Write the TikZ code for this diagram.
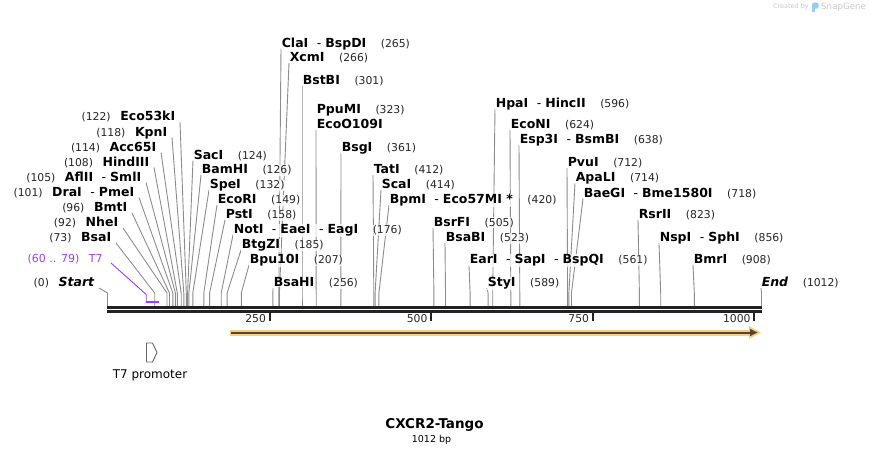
\documentclass[tikz,border=0pt]{standalone}
\usepackage{fontspec}
\setmainfont{DejaVu Sans}
\usetikzlibrary{calc}
\pgfdeclarelayer{bg}
\pgfsetlayers{bg,main}
\definecolor{leadc}{RGB}{140,140,140}
\definecolor{axisc}{RGB}{34,34,34}
\definecolor{t7c}{RGB}{160,60,255}
\definecolor{featorange}{RGB}{250,205,130}
\definecolor{featdark}{RGB}{85,70,45}
\definecolor{wmc}{RGB}{200,200,200}
\definecolor{logoc}{RGB}{150,205,240}
\tikzset{
  nm/.style={font=\fontsize{12.5}{14}\selectfont\bfseries, inner sep=0.6pt, fill=white, fill opacity=0.75, text opacity=1},
  nb/.style={font=\fontsize{10.8}{13}\selectfont, text=black!85, inner sep=0.6pt, fill=white, fill opacity=0.75, text opacity=1},
  leader/.style={draw=leadc, line width=0.9pt},
  tickmark/.style={draw=axisc, line width=2pt},
  ticklab/.style={font=\fontsize{10.8}{13}\selectfont, text=black!85, inner sep=0pt, anchor=base east},
}
\newcommand{\hy}{\hspace{8.5pt}{\mdseries-}\hspace{4pt}}
% right-type label: id, name left x, centre y, name, number, site x
\newcommand{\Rsite}[6]{%
  \node[nm, anchor=base west] (n#1) at (#2,#3+4.5) {#4};
  \node[nb, anchor=base west] (m#1) at ([xshift=13pt]n#1.base east) {(#5)};
  \coordinate (k#1) at (#6,293);
  \coordinate (a#1) at (#6,306);
  \begin{pgfonlayer}{bg}
    \draw[leader] ([yshift=-1.5pt]n#1.base west) -- (k#1) -- (a#1);
  \end{pgfonlayer}
}
% left-type label: id, name right x, centre y, name, number, site x
\newcommand{\Lsite}[6]{%
  \node[nm, anchor=base east] (n#1) at (#2,#3+4.5) {#4};
  \node[nb, anchor=base east] (m#1) at ([xshift=-8pt]n#1.base west) {(#5)};
  \coordinate (k#1) at (#6,293);
  \coordinate (a#1) at (#6,306);
  \begin{pgfonlayer}{bg}
    \draw[leader] ([xshift=4pt,yshift=-1.5pt]n#1.base east) -- (k#1) -- (a#1);
  \end{pgfonlayer}
}
\begin{document}
\begin{tikzpicture}[x=1pt,y=-1pt]
\useasboundingbox (0,0) rectangle (870,456);

% watermark
\node[font=\fontsize{6.5}{8}\selectfont, text=wmc, inner sep=0pt, anchor=east] (wm1) at (809,7) {Created by};
\fill[logoc, rounded corners=1.5pt] (812,2.5) rectangle (818.5,8.5);
\fill[logoc] (812,4) rectangle (814.5,12);
\node[font=\fontsize{8.7}{10}\selectfont, text=wmc, inner sep=0pt, anchor=west] (wm2) at (821,7) {SnapGene};

% axis
\coordinate (ax0) at (107.3,307.5);
\coordinate (ax1) at (761.7,307.5);
\coordinate (bx0) at (107.3,311.7);
\coordinate (bx1) at (761.7,311.7);
\draw[axisc, line width=3pt] (ax0) -- (ax1);
\draw[axisc, line width=2.7pt] (bx0) -- (bx1);

% ticks
\foreach \v/\x in {250/269.6, 500/431.1, 750/592.7, 1000/754.3}{
  \coordinate (tk\v) at (\x,312.5);
  \coordinate (tb\v) at (\x,321);
  \draw[tickmark] (tk\v) -- (tb\v);
  \node[ticklab] (tl\v) at (\x-3.5,322) {\v};
}

% feature arrow
\coordinate (f0) at (230,332.5);
\coordinate (f1) at (752,332.5);
\draw[featorange, line width=6pt] (f0) -- (f1);
\fill[featorange] (749,326) -- (761,332.5) -- (749,339) -- cycle;
\draw[featdark, line width=2pt] (231,332.5) -- (751,332.5);
\fill[featdark] (750,328.8) -- (757.5,332.5) -- (750,336.2) -- cycle;

% T7 promoter feature
\draw[draw=black!60, fill=white, line width=0.9pt, line join=round]
  (146.5,343) -- (152.5,343) -- (157,352.5) -- (152.5,362) -- (146.5,362) -- cycle;
\node[font=\fontsize{12}{14}\selectfont, inner sep=0pt] (t7plab) at (150,375.5) {T7 promoter};

% title
\node[font=\fontsize{13.5}{16}\selectfont\bfseries, inner sep=0pt] (title) at (434.5,425) {CXCR2-Tango};
\node[font=\fontsize{9.5}{11}\selectfont, inner sep=0pt] (len) at (431.5,440) {1012 bp};

% T7 primer (purple)
\node[font=\fontsize{11}{13}\selectfont, text=t7c, inner sep=0.6pt, anchor=base east] (nT7) at (103.5,262.5) {T7};
\node[font=\fontsize{11}{13}\selectfont, text=t7c, inner sep=0.6pt, anchor=base east] (mT7) at ([xshift=-8pt]nT7.base west) {(60 .. 79)};
\coordinate (pT7a) at (146.2,294.5);
\coordinate (pT7b) at (146.2,302);
\coordinate (pT7c) at (158.6,302);
\draw[t7c, line width=0.9pt] ([xshift=7.5pt,yshift=-0.5pt]nT7.base east) -- (pT7a) -- (pT7b);
\draw[t7c, line width=2pt] ([xshift=-0.5pt]pT7b) -- (pT7c);

% left labels
\Lsite{Start}{95}{282}{\itshape Start}{0}{107.5}
\Lsite{BsaI}{112}{237}{BsaI}{73}{154.7}
\Lsite{NheI}{119}{222}{NheI}{92}{167.0}
\Lsite{BmtI}{128}{207}{BmtI}{96}{169.5}
\Lsite{DraI}{135}{191.5}{DraI\hy PmeI}{101}{172.8}
\Lsite{AflII}{142}{176.5}{AflII\hy SmlI}{105}{175.4}
\Lsite{HindIII}{150}{161.5}{HindIII}{108}{177.3}
\Lsite{Acc65I}{157}{146.5}{Acc65I}{114}{181.2}
\Lsite{KpnI}{168}{131.5}{KpnI}{118}{183.8}
\Lsite{Eco53kI}{176}{116}{Eco53kI}{122}{186.3}

% right labels
\Rsite{SacI}{193}{154.5}{SacI}{124}{187.6}
\Rsite{BamHI}{201}{169}{BamHI}{126}{188.9}
\Rsite{SpeI}{209}{184}{SpeI}{132}{192.8}
\Rsite{EcoRI}{217}{199}{EcoRI}{149}{203.8}
\Rsite{PstI}{225}{214}{PstI}{158}{209.6}
\Rsite{NotI}{233}{229}{NotI\hy EaeI\hy EagI}{176}{221.2}
\Rsite{BtgZI}{241}{244}{BtgZI}{185}{227.1}
\Rsite{Bpu10I}{249}{259}{Bpu10I}{207}{241.3}
\Rsite{BsaHI}{273}{282}{BsaHI}{256}{272.9}
\Rsite{ClaI}{281}{42.5}{ClaI\hy BspDI}{265}{278.8}
\Rsite{XcmI}{289}{57}{XcmI}{266}{279.4}
\Rsite{BstBI}{302}{79.5}{BstBI}{301}{302.0}

\node[nm, anchor=base west] (nPpuMI) at (316,113.5) {PpuMI};
\node[nb, anchor=base west] (mPpuMI) at ([xshift=13pt]nPpuMI.base east) {(323)};
\node[nm, anchor=base west] (nEcoO) at (316,128.5) {EcoO109I};
\coordinate (kPpuMI) at (316.2,293);
\coordinate (aPpuMI) at (316.2,306);
\begin{pgfonlayer}{bg}
  \draw[leader] ([yshift=-1.5pt]nEcoO.base west) -- (kPpuMI) -- (aPpuMI);
\end{pgfonlayer}

\Rsite{BsgI}{341}{146.5}{BsgI}{361}{340.8}
\Rsite{TatI}{373}{169}{TatI}{412}{373.8}
\Rsite{ScaI}{381}{184}{ScaI}{414}{375.1}
\Rsite{BpmI}{389}{199}{BpmI\hy Eco57MI *}{420}{378.9}
\Rsite{BsrFI}{433}{221.5}{BsrFI}{505}{433.9}
\Rsite{BsaBI}{445}{237}{BsaBI}{523}{445.5}
\Rsite{EarI}{469}{259}{EarI\hy SapI\hy BspQI}{561}{470.1}
\Rsite{StyI}{487}{282}{StyI}{589}{488.1}
\Rsite{HpaI}{495}{102.5}{HpaI\hy HincII}{596}{492.7}
\Rsite{EcoNI}{510}{124}{EcoNI}{624}{510.8}
\Rsite{Esp3I}{519}{138.5}{Esp3I\hy BsmBI}{638}{519.8}
\Rsite{PvuI}{567}{162}{PvuI}{712}{567.6}
\Rsite{ApaLI}{575}{177}{ApaLI}{714}{568.9}
\Rsite{BaeGI}{583}{192.5}{BaeGI\hy Bme1580I}{718}{571.5}
\Rsite{RsrII}{638}{214}{RsrII}{823}{639.4}
\Rsite{NspI}{659}{237}{NspI\hy SphI}{856}{660.7}
\Rsite{BmrI}{693}{259}{BmrI}{908}{694.3}
\Rsite{End}{761}{282}{\itshape End}{1012}{761.5}
\end{tikzpicture}
\end{document}
